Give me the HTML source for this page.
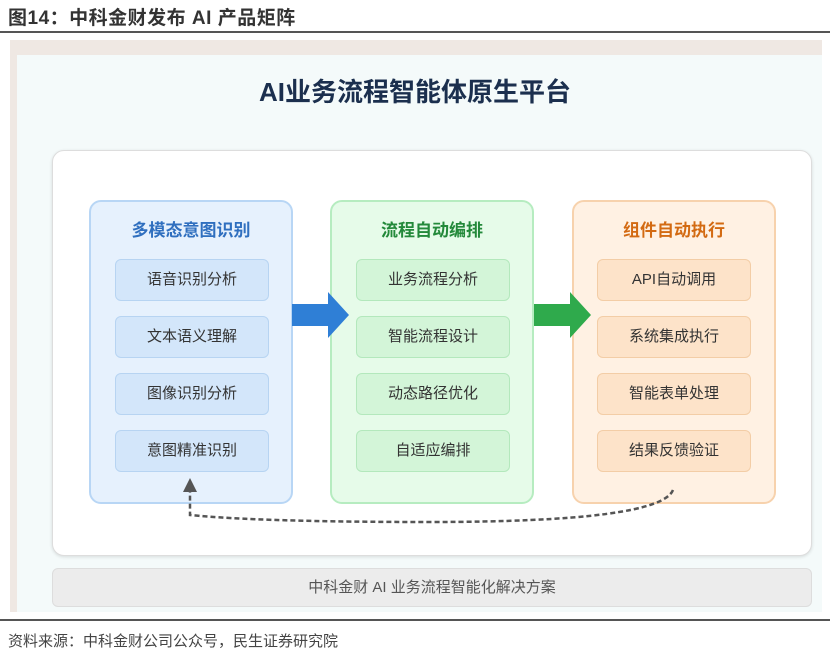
<!DOCTYPE html>
<html><head><meta charset="utf-8"><style>
*{margin:0;padding:0;box-sizing:border-box}
body{width:830px;height:657px;background:#fff;font-family:"Liberation Sans","Noto Sans CJK SC",sans-serif;position:relative;overflow:hidden}
.abs{position:absolute}
.col{position:absolute;top:200px;width:204px;height:304px;border-radius:12px;border:2px solid}
.hd{position:absolute;top:14px;left:0;right:0;text-align:center;font-size:17px;font-weight:bold}
.it{position:absolute;left:24px;width:154px;height:42px;border-radius:6px;border:1px solid;text-align:center;line-height:40px;font-size:15px;color:#333}
</style></head><body>
<div class="abs" style="left:8px;top:3px;font-size:19px;font-weight:bold;color:#333;letter-spacing:0.5px">图14：中科金财发布 AI 产品矩阵</div>
<div class="abs" style="left:0;top:31px;width:830px;height:2px;background:#555"></div>
<div class="abs" style="left:10px;top:40px;width:812px;height:572px;background:#efe8e3"></div>
<div class="abs" style="left:17px;top:55px;width:805px;height:557px;background:#f4fafa"></div>
<div class="abs" style="left:0;top:72px;width:830px;text-align:center;font-size:26px;font-weight:bold;color:#1b2f4e">AI业务流程智能体原生平台</div>
<div class="abs" style="left:52px;top:150px;width:760px;height:406px;background:#fff;border:1.5px solid #ddd;border-radius:12px;box-shadow:0 1px 3px rgba(0,0,0,.12)"></div>
<div class="col" style="left:89px;background:#e6f1fd;border-color:#b8d6f5"><div class="hd" style="color:#2f6fbf">多模态意图识别</div></div>
<div class="col" style="left:330px;background:#e6fbe9;border-color:#b6ecc0"><div class="hd" style="color:#23893a">流程自动编排</div></div>
<div class="col" style="left:572px;background:#fff1e3;border-color:#f7d2ad"><div class="hd" style="color:#d36a12">组件自动执行</div></div>
<div class="it" style="left:115px;top:259px;background:#d3e6fa;border-color:#b7d4f2">语音识别分析</div>
<div class="it" style="left:115px;top:316px;background:#d3e6fa;border-color:#b7d4f2">文本语义理解</div>
<div class="it" style="left:115px;top:373px;background:#d3e6fa;border-color:#b7d4f2">图像识别分析</div>
<div class="it" style="left:115px;top:430px;background:#d3e6fa;border-color:#b7d4f2">意图精准识别</div>
<div class="it" style="left:356px;top:259px;background:#d3f5d8;border-color:#b3e8bc">业务流程分析</div>
<div class="it" style="left:356px;top:316px;background:#d3f5d8;border-color:#b3e8bc">智能流程设计</div>
<div class="it" style="left:356px;top:373px;background:#d3f5d8;border-color:#b3e8bc">动态路径优化</div>
<div class="it" style="left:356px;top:430px;background:#d3f5d8;border-color:#b3e8bc">自适应编排</div>
<div class="it" style="left:597px;top:259px;background:#fde3c9;border-color:#f3cda6">API自动调用</div>
<div class="it" style="left:597px;top:316px;background:#fde3c9;border-color:#f3cda6">系统集成执行</div>
<div class="it" style="left:597px;top:373px;background:#fde3c9;border-color:#f3cda6">智能表单处理</div>
<div class="it" style="left:597px;top:430px;background:#fde3c9;border-color:#f3cda6">结果反馈验证</div>
<svg class="abs" style="left:0;top:0" width="830" height="657">
<polygon points="292,304 328,304 328,292 349,315 328,338 328,326 292,326" fill="#2f7fd6"/>
<polygon points="534,304 570,304 570,292 591,315 570,338 570,326 534,326" fill="#2faa4c"/>
<path d="M673,490 Q660,522 430,522 Q260,522 190,515 L190,490" fill="none" stroke="#555" stroke-width="2.5" stroke-dasharray="5,3"/>
<polygon points="183,492 197,492 190,478" fill="#555"/>
</svg>
<div class="abs" style="left:52px;top:568px;width:760px;height:39px;background:#ececec;border:1px solid #ddd;border-radius:6px;text-align:center;line-height:37px;font-size:15px;color:#555">中科金财 AI 业务流程智能化解决方案</div>
<div class="abs" style="left:0;top:619px;width:830px;height:2px;background:#555"></div>
<div class="abs" style="left:8px;top:630px;font-size:15px;color:#444">资料来源：中科金财公司公众号，民生证券研究院</div>
</body></html>
